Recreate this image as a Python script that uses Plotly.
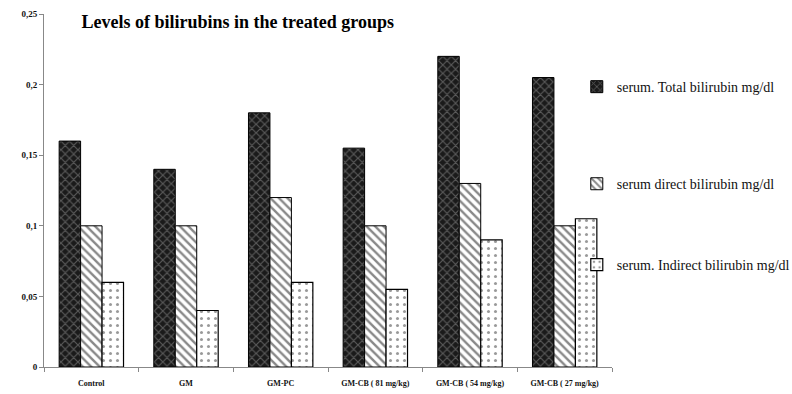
import plotly.graph_objects as go

groups = ["Control", "GM", "GM-PC", "GM-CB ( 81 mg/kg)", "GM-CB ( 54 mg/kg)", "GM-CB ( 27 mg/kg)"]
total_bili = [0.16, 0.14, 0.18, 0.155, 0.22, 0.205]
direct_bili = [0.10, 0.10, 0.12, 0.10, 0.13, 0.10]
indirect_bili = [0.06, 0.04, 0.06, 0.055, 0.09, 0.105]

series_names = [
    "serum. Total bilirubin mg/dl",
    "serum direct bilirubin mg/dl",
    "serum. Indirect bilirubin mg/dl",
]
y_ticks = [0, 0.05, 0.1, 0.15, 0.2, 0.25]
y_tick_text = ["0", "0,05", "0,1", "0,15", "0,2", "0,25"]

serif = "Liberation Serif"

fig = go.Figure()
fig.add_trace(go.Bar(
    x=groups, y=total_bili, name=series_names[0], legend="legend", showlegend=True,
    marker=dict(color="#1a1a1a", line=dict(color="#000", width=1),
                pattern=dict(shape="x", fgcolor="#9a9a9a", bgcolor="#1a1a1a", size=6, solidity=0.35)),
))
fig.add_trace(go.Bar(
    x=groups, y=direct_bili, name=series_names[1], legend="legend2", showlegend=True,
    marker=dict(color="white", line=dict(color="#000", width=1),
                pattern=dict(shape="\\", fgcolor="#111", bgcolor="white", size=6, solidity=0.4)),
))
fig.add_trace(go.Bar(
    x=groups, y=indirect_bili, name=series_names[2], legend="legend3", showlegend=True,
    marker=dict(color="white", line=dict(color="#000", width=1.2),
                pattern=dict(shape=".", fgcolor="#333", bgcolor="white", size=7, solidity=0.15)),
))

legend_style = dict(x=0.938, xanchor="left", yanchor="middle",
                    font=dict(family=serif, size=14, color="#111"),
                    bgcolor="rgba(0,0,0,0)", itemwidth=30)

fig.update_layout(
    width=792, height=394,
    margin=dict(l=44, r=180, t=14, b=27, autoexpand=False),
    paper_bgcolor="white", plot_bgcolor="white",
    showlegend=True,
    barmode="group", bargap=0.32, bargroupgap=0,
    font=dict(family=serif),
    title=dict(text="<b>Levels of bilirubins in the treated groups</b>",
               x=0.103, xanchor="left", y=0.944, yanchor="middle",
               font=dict(family=serif, size=18, color="#000")),
    legend=dict(y=0.793, **legend_style),
    legend2=dict(y=0.518, **legend_style),
    legend3=dict(y=0.289, **legend_style),
    xaxis=dict(showline=True, linecolor="#888", linewidth=1,
               ticks="outside", ticklen=4, tickcolor="#888", tickson="boundaries",
               ticklabelstandoff=8,
               tickfont=dict(family=serif, size=8, color="#111"),
               tickprefix="<b>", ticksuffix="</b>", showgrid=False),
    yaxis=dict(range=[0, 0.25], tickvals=y_ticks, ticktext=["<b>" + t + "</b>" for t in y_tick_text],
               showline=True, linecolor="#888", linewidth=1,
               ticks="outside", ticklen=4, tickcolor="#888",
               tickfont=dict(family=serif, size=9, color="#111"),
               showgrid=False, zeroline=False),
)

fig.write_html("out.html")
